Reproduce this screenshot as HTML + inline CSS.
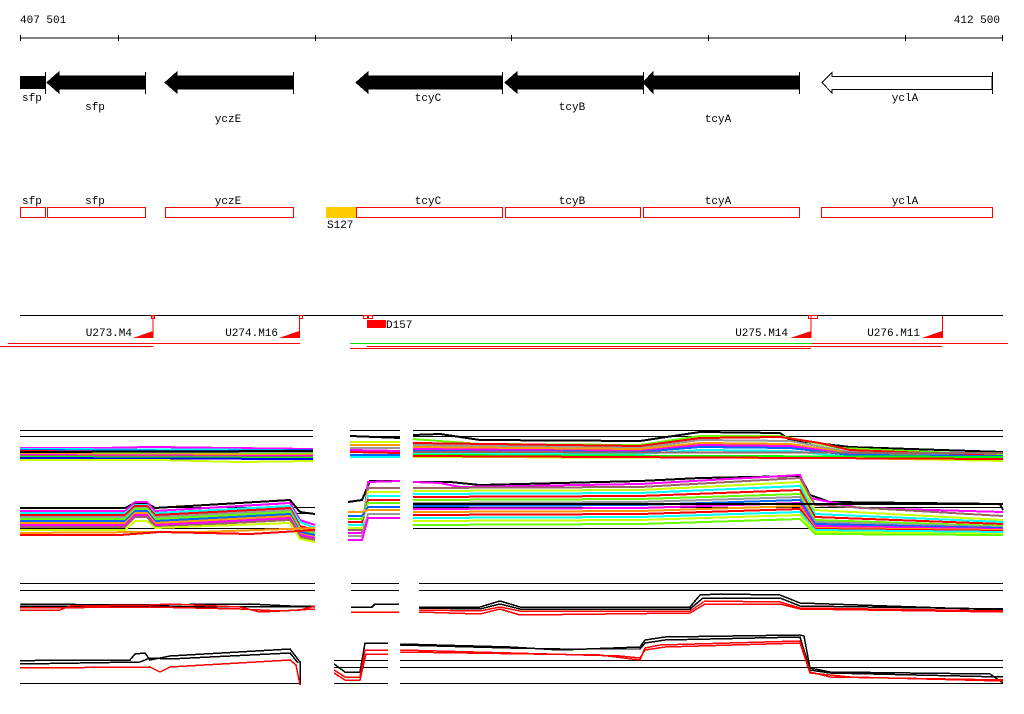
<!DOCTYPE html>
<html><head><style>
html,body{margin:0;padding:0;background:#fff;}
svg{display:block;}
text{font-family:"Liberation Mono","DejaVu Sans Mono",monospace;font-size:11px;fill:#000;}
</style></head><body>
<svg width="1024" height="714" viewBox="0 0 1024 714" xmlns="http://www.w3.org/2000/svg" shape-rendering="crispEdges">
<text x="20" y="23">407 501</text>
<text x="1000" y="23" text-anchor="end">412 500</text>
<line x1="20" y1="38" x2="1003" y2="38" stroke="#000"/>
<g stroke="#000"><line x1="20.5" y1="35" x2="20.5" y2="41"/><line x1="118.5" y1="35" x2="118.5" y2="41"/><line x1="315.5" y1="35" x2="315.5" y2="41"/><line x1="511.5" y1="35" x2="511.5" y2="41"/><line x1="708.5" y1="35" x2="708.5" y2="41"/><line x1="905.5" y1="35" x2="905.5" y2="41"/><line x1="1002.5" y1="35" x2="1002.5" y2="41"/></g>

<g fill="#000" stroke="#000">
<rect x="20" y="76" width="25" height="13" stroke="none"/>
<line x1="45.5" y1="72" x2="45.5" y2="94"/>
<polygon points="47,82.5 59,72 59,76 145,76 145,89 59,89 59,93" />
<line x1="145.5" y1="72" x2="145.5" y2="94"/>
<polygon points="165,82.5 177,72 177,76 293,76 293,89 177,89 177,93"/>
<line x1="293.5" y1="72" x2="293.5" y2="94"/>
<polygon points="356,82.5 368,72 368,76 502,76 502,89 368,89 368,93"/>
<line x1="502.5" y1="72" x2="502.5" y2="94"/>
<polygon points="505,82.5 517,72 517,76 643,76 643,89 517,89 517,93"/>
<line x1="643.5" y1="72" x2="643.5" y2="94"/>
<polygon points="643,82.5 653,72 653,76 799,76 799,89 653,89 653,93"/>
<line x1="799.5" y1="72" x2="799.5" y2="94"/>
</g>
<polygon points="822,82.5 832,72.5 832,76.5 992,76.5 992,89.5 832,89.5 832,93" fill="#fff" stroke="#000"/>
<line x1="992.5" y1="72" x2="992.5" y2="94" stroke="#000"/>
<text x="22" y="101">sfp</text>
<text x="95" y="110" text-anchor="middle">sfp</text>
<text x="228" y="122" text-anchor="middle">yczE</text>
<text x="428" y="101" text-anchor="middle">tcyC</text>
<text x="572" y="110" text-anchor="middle">tcyB</text>
<text x="718" y="122" text-anchor="middle">tcyA</text>
<text x="905" y="101" text-anchor="middle">yclA</text>

<rect x="326" y="207" width="30" height="11" fill="#ffcc00"/>
<g fill="none" stroke="#f00">
<rect x="20.5" y="207.5" width="25" height="10"/>
<rect x="47.5" y="207.5" width="98" height="10"/>
<rect x="165.5" y="207.5" width="128" height="10"/>
<rect x="356.5" y="207.5" width="146" height="10"/>
<rect x="505.5" y="207.5" width="135" height="10"/>
<rect x="643.5" y="207.5" width="156" height="10"/>
<rect x="821.5" y="207.5" width="171" height="10"/>
</g>
<text x="22" y="204">sfp</text>
<text x="95" y="204" text-anchor="middle">sfp</text>
<text x="228" y="204" text-anchor="middle">yczE</text>
<text x="428" y="204" text-anchor="middle">tcyC</text>
<text x="572" y="204" text-anchor="middle">tcyB</text>
<text x="718" y="204" text-anchor="middle">tcyA</text>
<text x="905" y="204" text-anchor="middle">yclA</text>
<text x="327" y="228">S127</text>

<line x1="20" y1="315.5" x2="1003" y2="315.5" stroke="#000"/>
<g fill="none" stroke="#f00">
<rect x="151.5" y="315.5" width="3" height="3"/>
<rect x="299.5" y="315.5" width="3" height="3"/>
<rect x="363.5" y="315.5" width="4" height="3"/>
<rect x="368.5" y="315.5" width="4" height="3"/>
<rect x="808.5" y="315.5" width="9" height="3"/>
<line x1="153" y1="316" x2="153" y2="338"/>
<line x1="299.5" y1="316" x2="299.5" y2="338"/>
<line x1="811" y1="316" x2="811" y2="338"/>
<line x1="942.5" y1="316" x2="942.5" y2="338"/>
</g>
<g fill="#f00">
<polygon points="133,338 153,331 153,338"/>
<polygon points="279,338 299,331 299,338"/>
<polygon points="790,338 811,331 811,338"/>
<polygon points="922,338 942,331 942,338"/>
<rect x="367" y="320" width="19" height="8"/>
</g>
<text x="132" y="336" text-anchor="end">U273.M4</text>
<text x="278" y="336" text-anchor="end">U274.M16</text>
<text x="788" y="336" text-anchor="end">U275.M14</text>
<text x="920" y="336" text-anchor="end">U276.M11</text>
<text x="386" y="328">D157</text>
<g stroke-width="1">
<line x1="8" y1="343.5" x2="300" y2="343.5" stroke="#f00"/>
<line x1="0" y1="346.5" x2="153" y2="346.5" stroke="#f00"/>
<line x1="350" y1="343.5" x2="812" y2="343.5" stroke="#00e000"/>
<line x1="812" y1="343.5" x2="1008" y2="343.5" stroke="#f00"/>
<line x1="367" y1="346.5" x2="812" y2="346.5" stroke="#f00"/>
<line x1="350" y1="348.5" x2="811" y2="348.5" stroke="#f00"/>
<line x1="812" y1="346.5" x2="942" y2="346.5" stroke="#f00"/>
</g>

<g stroke="#000">
<path d="M20,430.5H313M350,430.5H400M413,430.5H1003M20,436.5H313M350,436.5H400M413,436.5H1003"/>
<path d="M20,507.5H315M20,513.5H315M20,528.5H315M413,507.5H1003M413,528.5H1003"/>
<path d="M20,583.5H315M20,590.5H315M351,583.5H399M351,590.5H399M419,583.5H1003M419,590.5H1003"/>
<path d="M20,683.5H300M334,660.5H388M334,667.5H388M334,683.5H388M400,660.5H1003M400,667.5H1003M400,683.5H1003"/>
</g>

<g fill="none" stroke-width="2">
<path stroke="#ff00ff" d="M20,448L100,448L150,447L313,449"/>
<path stroke="#00ffff" d="M20,449L313,450"/>
<path stroke="#0066ff" d="M20,450L200,451L313,450"/>
<path stroke="#f00" d="M20,451L150,452L313,452"/>
<path stroke="#999" d="M20,452L313,453"/>
<path stroke="#66ff00" d="M20,453L180,454L313,454"/>
<path stroke="#ff9900" d="M20,454L313,455"/>
<path stroke="#ff00ff" d="M20,455L250,456L313,456"/>
<path stroke="#996666" d="M20,456L313,457"/>
<path stroke="#00ff00" d="M20,457L313,458"/>
<path stroke="#0000ff" d="M20,458L313,459"/>
<path stroke="#ccff00" d="M20,460L160,460L240,462L313,461"/>
<path stroke="#000" d="M20,452L313,451"/>
<path stroke="#000" d="M350,436L400,438"/>
<path stroke="#ccff00" d="M350,442L400,442"/>
<path stroke="#ff9900" d="M350,445L400,445"/>
<path stroke="#999" d="M350,448L400,448"/>
<path stroke="#ff00ff" d="M350,450L400,451"/>
<path stroke="#f00" d="M350,452L400,453"/>
<path stroke="#0066ff" d="M350,455L400,455"/>
<path stroke="#00ffff" d="M350,457L400,457"/>
<path stroke="#000" d="M413,435L440,434L480,440L640,441L700,432L780,433L790,440L850,447L1003,452"/>
<path stroke="#66ff00" d="M413,439L480,444L640,445L700,436L780,436L840,448L1003,455"/>
<path stroke="#f00" d="M413,443L640,446L700,438L780,437L820,443L850,450L1003,456"/>
<path stroke="#999" d="M413,445L640,448L700,440L790,441L850,452L1003,457"/>
<path stroke="#ff9900" d="M413,447L640,449L700,443L790,444L850,453L1003,458"/>
<path stroke="#ff00ff" d="M413,449L640,451L700,445L790,446L850,454L1003,459"/>
<path stroke="#0066ff" d="M413,451L640,452L700,447L790,448L850,455L1003,456"/>
<path stroke="#00ffff" d="M413,453L640,454L700,450L790,451L850,457L1003,460"/>
<path stroke="#996666" d="M413,452L1003,453"/>
<path stroke="#00ff00" d="M413,455L1003,457"/>
<path stroke="#ccff00" d="M413,457L850,458L1003,461"/>
<path stroke="#f00" d="M413,456L1003,459"/>
</g>

<g fill="none" stroke-width="2">
<path stroke="#000" d="M20,508L125,508L135,503L147,503L155,508L290,500L300,512L315,514"/>
<path stroke="#ff00ff" d="M20,511L125,511L135,502L147,502L155,511L290,503L300,520L315,525"/>
<path stroke="#00ffff" d="M20,513L125,513L135,505L147,505L155,513L290,506L300,522L315,528"/>
<path stroke="#f00" d="M20,515L125,515L135,506L147,506L155,515L290,508L300,526L315,530"/>
<path stroke="#999" d="M20,517L125,517L135,508L147,508L155,517L290,510L300,528L315,532"/>
<path stroke="#66ff00" d="M20,519L125,519L135,509L147,509L155,519L290,512L300,530L315,534"/>
<path stroke="#0066ff" d="M20,521L125,521L135,511L147,511L155,521L290,514L300,532L315,535"/>
<path stroke="#ff9900" d="M20,523L125,523L135,513L147,513L155,523L290,516L300,534L315,537"/>
<path stroke="#ff00ff" d="M20,525L125,525L135,515L147,515L155,525L290,518L300,535L315,538"/>
<path stroke="#996666" d="M20,527L125,527L135,517L147,517L155,527L290,520L300,537L315,540"/>
<path stroke="#ccff00" d="M20,530L125,530L135,521L147,521L155,528L290,523L300,539L315,542"/>
<path stroke="#ff9900" d="M20,533L150,532L200,532L315,528"/>
<path stroke="#f00" d="M20,535L120,535L160,532L250,534L315,530"/>
<path stroke="#000" d="M348,502L362,500L370,481L400,481"/>
<path stroke="#ff00ff" d="M348,533L362,533L368,482L400,481"/>
<path stroke="#996666" d="M348,530L362,530L368,488L400,488"/>
<path stroke="#ccff00" d="M348,528L362,528L368,492L400,492"/>
<path stroke="#00ffff" d="M348,525L362,525L368,496L400,496"/>
<path stroke="#f00" d="M348,522L362,522L368,500L400,500"/>
<path stroke="#66ff00" d="M348,519L362,519L368,503L400,503"/>
<path stroke="#0066ff" d="M348,516L362,516L368,507L400,507"/>
<path stroke="#ff9900" d="M348,512L362,512L368,510L400,510"/>
<path stroke="#999" d="M348,536L362,536L368,514L400,514"/>
<path stroke="#ff00ff" d="M348,540L362,540L368,518L400,518"/>
<path stroke="#000" d="M413,482L450,482L480,485L640,481L700,478L800,476L810,495L830,502L1000,504L1003,510"/>
<path stroke="#ff00ff" d="M413,482L440,483L460,487L640,484L800,475L810,498L860,508L1003,512"/>
<path stroke="#996666" d="M413,488L640,487L800,478L815,505L1003,516"/>
<path stroke="#ccff00" d="M413,491L640,490L800,482L815,510L1003,520"/>
<path stroke="#00ffff" d="M413,494L640,493L800,486L815,514L1003,522"/>
<path stroke="#f00" d="M413,497L640,496L800,490L815,517L1003,524"/>
<path stroke="#66ff00" d="M413,500L640,499L800,494L815,520L1003,526"/>
<path stroke="#999" d="M413,503L640,502L800,497L815,522L1003,527"/>
<path stroke="#0066ff" d="M413,506L640,505L800,500L815,524L1003,528"/>
<path stroke="#ff00ff" d="M413,509L640,508L800,503L815,526L1003,529"/>
<path stroke="#ff9900" d="M413,512L640,511L800,506L815,528L1003,530"/>
<path stroke="#f00" d="M413,515L640,514L800,509L815,529L1003,531"/>
<path stroke="#00ffff" d="M413,518L640,517L800,512L815,530L1003,532"/>
<path stroke="#ccff00" d="M413,521L640,520L800,515L815,532L1003,534"/>
<path stroke="#66ff00" d="M413,525L640,524L800,519L815,534L1003,535"/>
<path stroke="#000" d="M413,504L1003,504"/>
</g>

<g fill="none" stroke-width="1.5">
<path stroke="#000" d="M20,604L130,605L250,604L290,606L315,606"/>
<path stroke="#000" d="M20,606L315,607"/>
<path stroke="#f00" d="M20,610L60,610L70,606L150,605L170,604L240,607L260,612L300,610L315,606"/>
<path stroke="#f00" d="M20,608L150,607L240,609L280,611L315,609"/>
<path stroke="#000" d="M351,607L372,607L375,604L399,604"/>
<path stroke="#f00" d="M351,612L399,612"/>
<path stroke="#000" d="M419,607L480,607L500,601L520,607L690,607L700,595L720,594L780,595L800,603L1003,610"/>
<path stroke="#000" d="M419,608L480,609L500,604L520,609L690,609L703,598L780,598L800,606L1003,609"/>
<path stroke="#f00" d="M419,612L480,614L500,609L520,615L690,613L705,604L780,604L800,609L1003,612"/>
<path stroke="#f00" d="M419,610L480,611L500,607L520,611L690,611L705,601L780,602L800,608L1003,611"/>
</g>

<g fill="none" stroke-width="1.5">
<path stroke="#000" d="M20,661L50,660L130,660L135,654L145,653L150,660L170,656L290,649L300,662L300,685"/>
<path stroke="#000" d="M20,664L140,662L150,658L170,659L290,653L298,663"/>
<path stroke="#f00" d="M20,668L150,667L160,672L170,667L290,660L296,665L300,685"/>
<path stroke="#000" d="M334,664L345,672L360,672L365,643L388,643"/>
<path stroke="#f00" d="M334,670L345,677L360,677L365,650L388,650"/>
<path stroke="#f00" d="M334,673L345,680L360,680L366,654L388,654"/>
<path stroke="#000" d="M400,644L510,647L560,650L640,647L645,640L665,637L800,635L804,636L810,668L830,672L990,674L1003,683"/>
<path stroke="#000" d="M400,645L510,648L560,649L640,649L645,643L665,640L800,637L810,670L830,673L1003,677"/>
<path stroke="#f00" d="M400,652L600,655L640,660L645,648L660,645L800,641L810,672L830,677L1003,680"/>
<path stroke="#f00" d="M400,650L620,656L640,658L645,650L665,647L800,643L810,673L850,677L1003,681"/>
</g>
</svg>
</body></html>
